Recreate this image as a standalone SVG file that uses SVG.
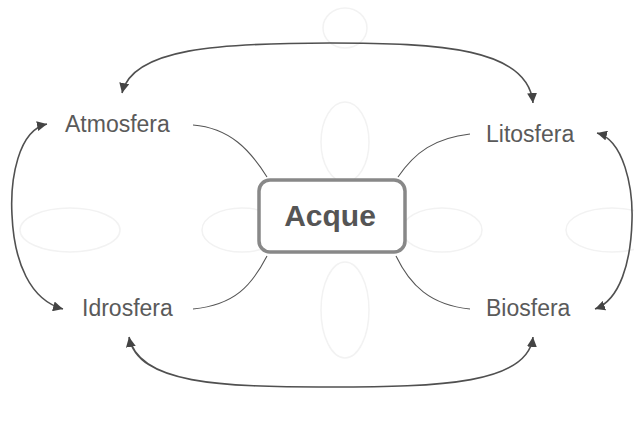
<svg xmlns="http://www.w3.org/2000/svg" width="634" height="421" viewBox="0 0 634 421">
  <style>
    .bg-petal { fill: none; stroke: #f2f2f2; stroke-width: 1.5; }
    .label { font-family: "Liberation Sans", Arial, sans-serif; font-size: 23px; fill: #5a5a5a; }
    .core { font-family: "Liberation Sans", Arial, sans-serif; font-size: 30px; font-weight: bold; fill: #555; }
    .branch { fill: none; stroke: #555; stroke-width: 1.1; }
    .cycle { fill: none; stroke: #505050; stroke-width: 1.6; marker-start: url(#tip); marker-end: url(#tip); }
  </style>
  <defs>
    <marker id="tip" viewBox="0 0 10 10" refX="10" refY="5" markerWidth="10" markerHeight="10" markerUnits="userSpaceOnUse" orient="auto-start-reverse">
      <path d="M0,0 L10,5 L0,10 z" fill="#444"/>
    </marker>
  </defs>
  <rect width="634" height="421" fill="#fff"/>

  <!-- faint background petals -->
  <g id="petals">
    <ellipse class="bg-petal" cx="345" cy="28" rx="22" ry="20"/>
    <ellipse class="bg-petal" cx="345" cy="142" rx="24" ry="40"/>
    <ellipse class="bg-petal" cx="345" cy="310" rx="24" ry="48"/>
    <ellipse class="bg-petal" cx="70" cy="230" rx="50" ry="22"/>
    <ellipse class="bg-petal" cx="242" cy="230" rx="40" ry="22"/>
    <ellipse class="bg-petal" cx="442" cy="230" rx="40" ry="22"/>
    <ellipse class="bg-petal" cx="612" cy="230" rx="46" ry="22"/>
  </g>

  <!-- connectors -->
  <g id="connectors">
    <path class="branch" d="M193,125 C230,128 250,150 267,177"/>
    <path class="branch" d="M470,134 C435,138 415,152 398,177"/>
    <path class="branch" d="M193,309 C235,305 252,285 267,256"/>
    <path class="branch" d="M470,309 C430,305 410,285 396,256"/>
    <path class="cycle" d="M122,93 C132,48 220,43 330,43 C440,43 528,48 533,103"/>
    <path class="cycle" d="M129,337 C138,384 220,387 330,387 C440,387 528,384 533,337"/>
    <path class="cycle" d="M47,124 C18,130 10,180 12,215 C14,262 30,300 63,309"/>
    <path class="cycle" d="M597,133 C624,140 633,188 632,220 C631,262 620,300 595,309"/>
  </g>

  <g id="acque">
    <rect x="259" y="180" width="146" height="72" rx="11" fill="#fff" stroke="#888" stroke-width="3.5"/>
    <text class="core" x="330" y="226" text-anchor="middle">Acque</text>
  </g>
  <g id="atmosfera">
    <text class="label" x="65" y="132">Atmosfera</text>
  </g>
  <g id="litosfera">
    <text class="label" x="486" y="142">Litosfera</text>
  </g>
  <g id="idrosfera">
    <text class="label" x="82" y="316">Idrosfera</text>
  </g>
  <g id="biosfera">
    <text class="label" x="486" y="316">Biosfera</text>
  </g>
</svg>
